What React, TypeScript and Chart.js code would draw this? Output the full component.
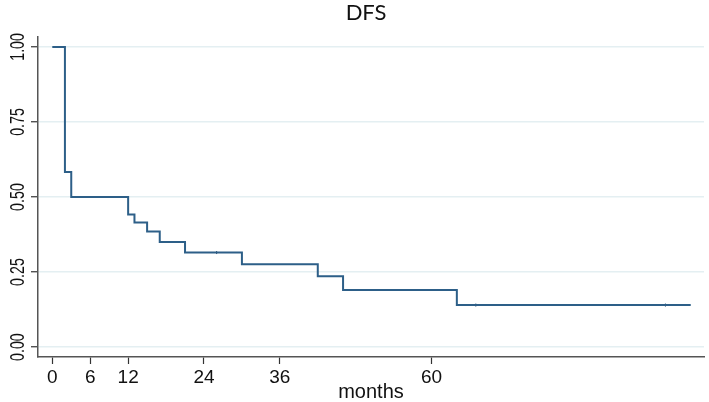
import React, { useEffect, useRef } from "react";
import { Chart, registerables } from "chart.js";

Chart.register(...registerables);

const chartTitle = "DFS";
const xAxisTitle = "months";
const xTickValues = [0, 6, 12, 24, 36, 60];
const yTickValues = [0, 0.25, 0.5, 0.75, 1];
const yTickLabels = ["0.00", "0.25", "0.50", "0.75", "1.00"];

const eventMonths = [0, 2, 3, 12, 13, 15, 17, 21, 30, 42, 46, 64, 101];
const survival = [1, 0.583, 0.5, 0.442, 0.415, 0.385, 0.35, 0.315, 0.276, 0.236, 0.19, 0.14, 0.14];

const censorMonths = [26, 67, 97];
const censorSurvival = [0.315, 0.14, 0.14];

const LINE_COLOR = "#2d5f88";

const textPlugin = {
  id: "textPlugin",
  afterDraw(chart: any) {
    const ctx = chart.ctx;
    const ys = chart.scales.y;
    const xs = chart.scales.x;
    ctx.save();
    ctx.fillStyle = "#111";
    // title
    ctx.font = "22px Lato, 'Liberation Sans', sans-serif";
    ctx.textAlign = "center";
    ctx.textBaseline = "alphabetic";
    ctx.fillText(chartTitle, 366, 20);
    // x axis title
    ctx.font = "20px 'Liberation Sans', Arial, sans-serif";
    ctx.textAlign = "center";
    ctx.textBaseline = "alphabetic";
    ctx.fillText(xAxisTitle, (xs.left + xs.right) / 2, 398);
    // rotated y tick labels
    ctx.font = "21px 'Liberation Sans', Arial, sans-serif";
    yTickValues.forEach((v, i) => {
      const py = ys.getPixelForValue(v);
      ctx.save();
      ctx.translate(17, py);
      ctx.rotate(-Math.PI / 2);
      ctx.scale(0.68, 1);
      ctx.textAlign = "center";
      ctx.textBaseline = "middle";
      ctx.fillText(yTickLabels[i], 0, 1);
      ctx.restore();
    });
    ctx.restore();
  },
};

export default function App() {
  const ref = useRef<HTMLCanvasElement | null>(null);

  useEffect(() => {
    if (!ref.current) return;
    const chart = new Chart(ref.current, {
      type: "line",
      data: {
        datasets: [
          {
            label: "DFS",
            data: eventMonths.map((t, i) => ({ x: t, y: survival[i] })),
            borderColor: LINE_COLOR,
            borderWidth: 2,
            stepped: "before",
            pointRadius: 0,
            fill: false,
          },
          {
            label: "censored",
            type: "scatter",
            data: censorMonths.map((t, i) => ({ x: t, y: censorSurvival[i] })),
            pointStyle: "line",
            rotation: 90,
            pointRadius: 1.5,
            borderColor: "#24496b",
            borderWidth: 1,
            showLine: false,
          },
        ],
      },
      plugins: [textPlugin],
      options: {
        responsive: false,
        animation: false,
        layout: { padding: { top: 37, right: 4, bottom: 0, left: 0 } },
        plugins: {
          legend: { display: false },
          title: { display: false },
          tooltip: { enabled: false },
        },
        scales: {
          x: {
            type: "linear",
            min: -2.26,
            max: 103.1,
            afterBuildTicks: (scale: any) => {
              scale.ticks = xTickValues.map((v) => ({ value: v }));
            },
            afterFit: (scale: any) => {
              scale.height = 45;
            },
            grid: {
              drawOnChartArea: false,
              drawTicks: true,
              tickLength: 7,
              tickColor: "#333",
              tickWidth: 1.2,
            },
            border: { color: "#555", width: 1.5 },
            ticks: {
              color: "#111",
              font: { size: 19, family: "'Liberation Sans', Arial, sans-serif" },
              padding: 2,
              maxRotation: 0,
              autoSkip: false,
              callback: (v: any) => String(v),
            },
          },
          y: {
            type: "linear",
            min: -0.033,
            max: 1.033,
            afterBuildTicks: (scale: any) => {
              scale.ticks = yTickValues.map((v) => ({ value: v }));
            },
            afterFit: (scale: any) => {
              scale.width = 38;
            },
            grid: {
              color: "#e4eff2",
              lineWidth: 1.5,
              drawTicks: true,
              tickLength: 7,
              tickColor: "#333",
              tickWidth: 1.2,
            },
            border: { color: "#555", width: 1.5 },
            ticks: { display: false },
          },
        },
      },
    });
    return () => chart.destroy();
  }, []);

  return (
    <div style={{ position: "absolute", left: 0, top: 0, width: 709, height: 402, background: "#fff" }}>
      <canvas ref={ref} width={709} height={402} style={{ width: 709, height: 402, display: "block" }} />
    </div>
  );
}
